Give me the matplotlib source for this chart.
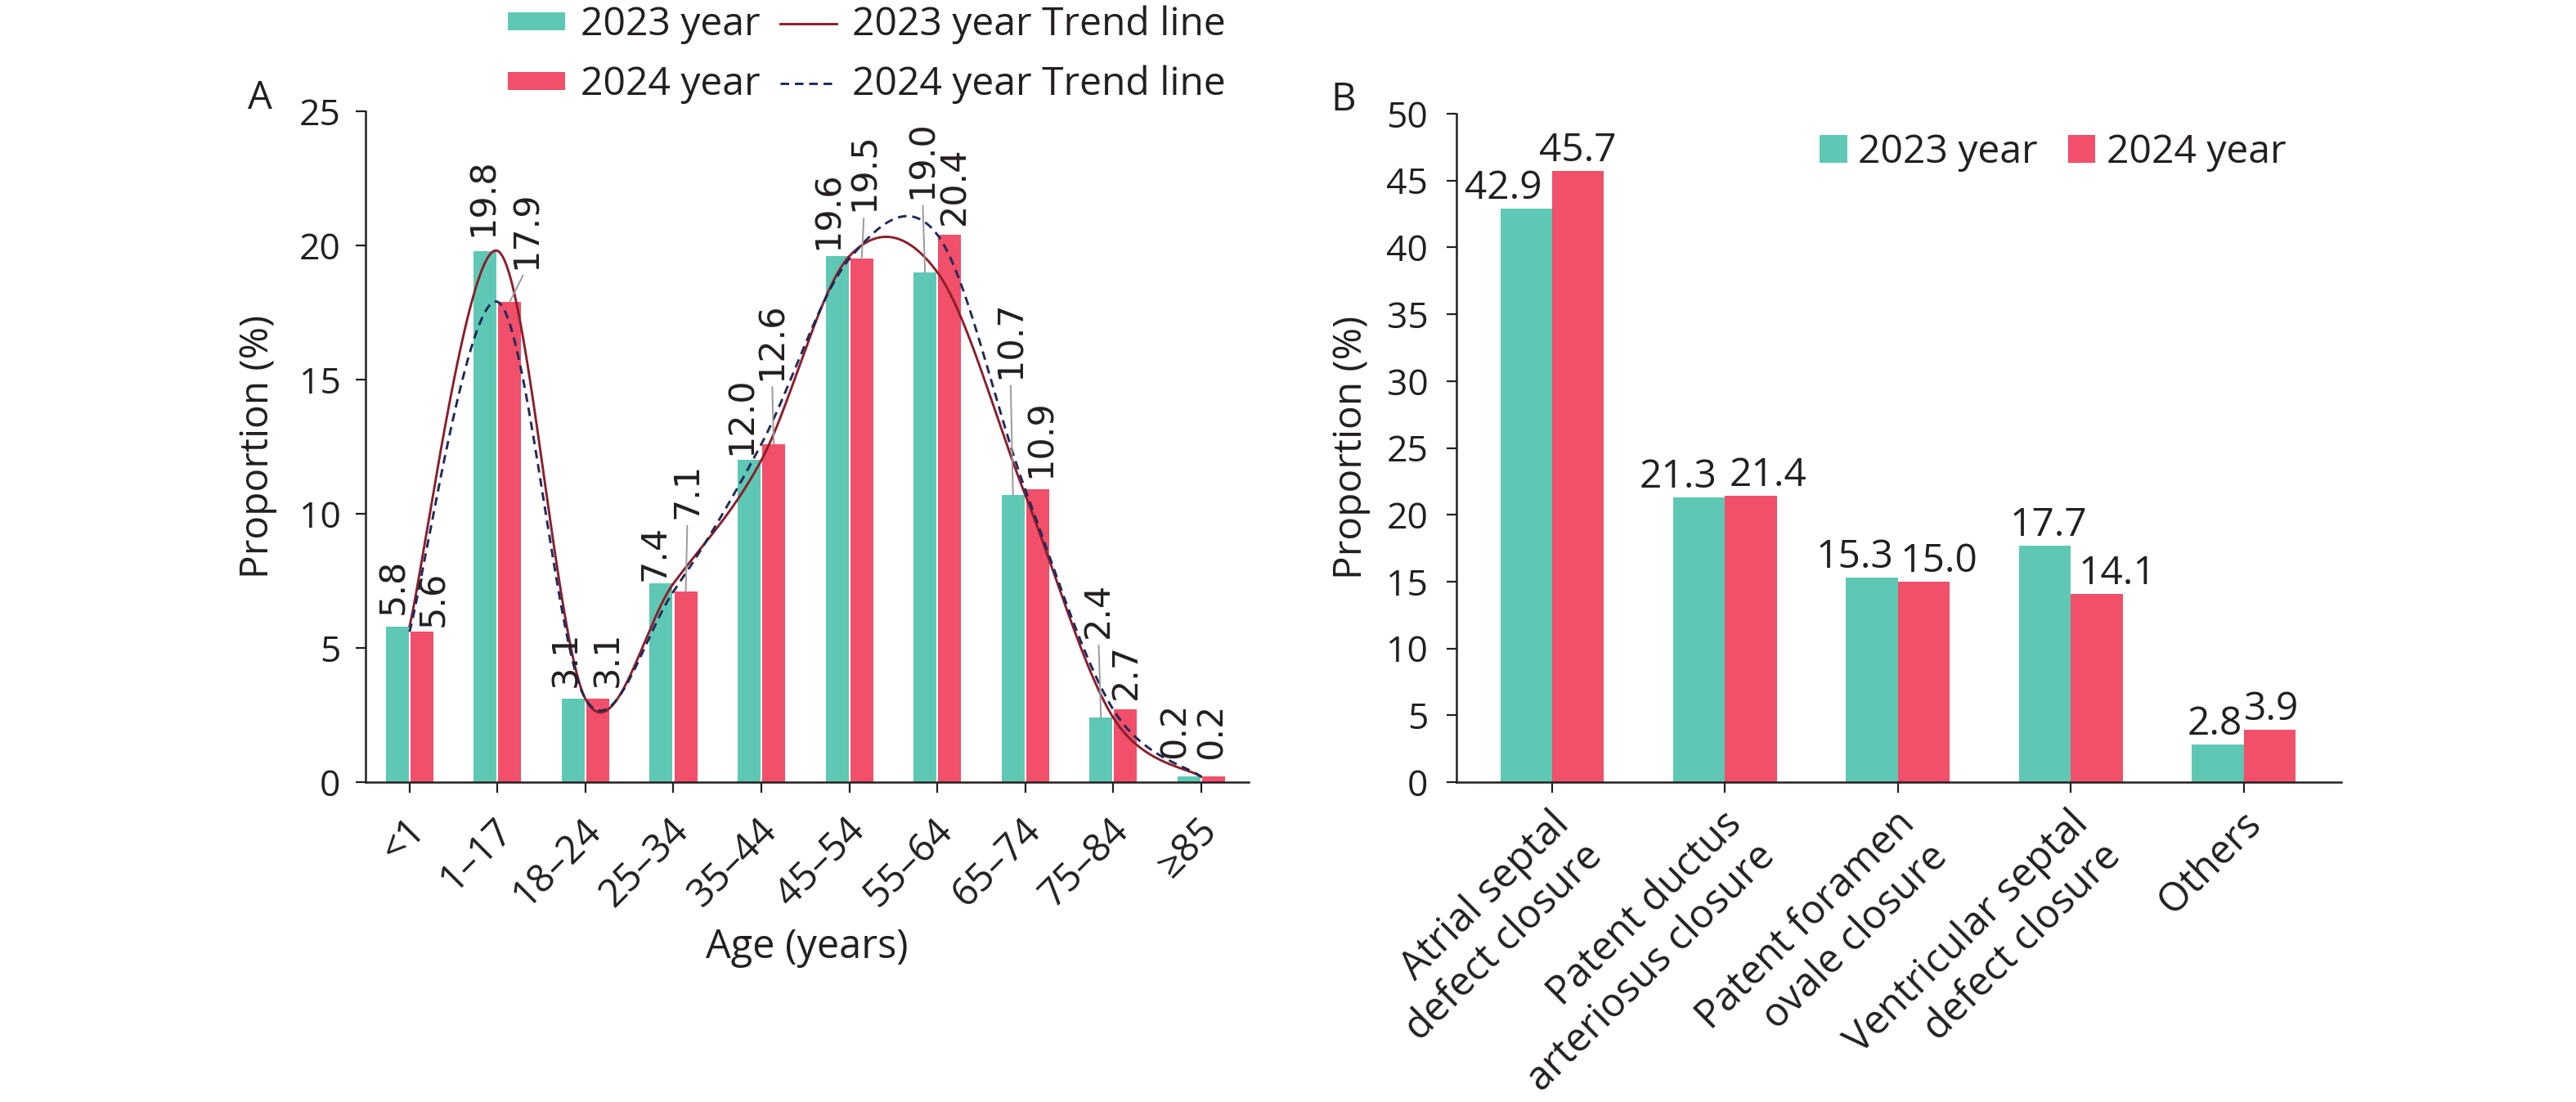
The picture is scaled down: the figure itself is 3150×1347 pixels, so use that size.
import numpy as np
import matplotlib
matplotlib.use('Agg')
import matplotlib.pyplot as plt
from matplotlib.lines import Line2D
from matplotlib.patches import Patch
from matplotlib.transforms import ScaledTranslation

# ---------------- data ----------------
age_groups = ['<1', '1–17', '18–24', '25–34', '35–44', '45–54', '55–64', '65–74', '75–84', '≥85']
age_2023 = [5.8, 19.8, 3.1, 7.4, 12.0, 19.6, 19.0, 10.7, 2.4, 0.2]
age_2024 = [5.6, 17.9, 3.1, 7.1, 12.6, 19.5, 20.4, 10.9, 2.7, 0.2]

procedures = ['Atrial septal\ndefect closure', 'Patent ductus\narteriosus closure',
              'Patent foramen\novale closure', 'Ventricular septal\ndefect closure', 'Others']
proc_2023 = [42.9, 21.3, 15.3, 17.7, 2.8]
proc_2024 = [45.7, 21.4, 15.0, 14.1, 3.9]

series_labels = ['2023 year', '2024 year']
trend_labels = ['2023 year Trend line', '2024 year Trend line']

# ---------------- label layout (pixel nudges) ----------------
a23_dx = [-5, -3, -9, -8, -9, -11, -3, -3, -3, -17]
a23_dy = [15, 18, 14, 3, 6, 8, 90, 142, 97, 22]
a24_dx = [14, 20, 12, 2, -2, 3, 6, 4, 0, -2]
a24_dy = [6, 40, 14, 89, 78, 58, 12, 14, 12, 21]
b23_dx = [-28, -26, -21, 4, -4]
b24_dx = [0, 21, 18, 25, 2]

GREEN = '#5EC8B4'
RED = '#F14F6A'
MAROON = '#8B1E2A'
NAVY = '#1F2A5A'
TXT = '#231F20'
LEAD = '#9A9A9A'

W, H = 3150, 1347
DPI = 100
PX = 72.0 / DPI  # px -> points

plt.rcParams['font.family'] = ['Open Sans', 'DejaVu Sans']
plt.rcParams['text.color'] = TXT
plt.rcParams['axes.labelcolor'] = TXT
plt.rcParams['xtick.color'] = TXT
plt.rcParams['ytick.color'] = TXT


def smooth_curve(xs, ys, n=60):
    """Excel-like smoothed line (Catmull-Rom Bezier)."""
    pts = np.column_stack([xs, ys]).astype(float)
    P = np.vstack([pts[0], pts, pts[-1]])
    t = np.linspace(0, 1, n)[:, None]
    segs = []
    for i in range(1, len(P) - 2):
        p0, p1, p2, p3 = P[i - 1], P[i], P[i + 1], P[i + 2]
        b1 = p1 + (p2 - p0) / 6.0
        b2 = p2 - (p3 - p1) / 6.0
        seg = (1 - t) ** 3 * p1 + 3 * (1 - t) ** 2 * t * b1 + 3 * (1 - t) * t ** 2 * b2 + t ** 3 * p2
        segs.append(seg)
    c = np.vstack(segs)
    return c[:, 0], c[:, 1]


fig = plt.figure(figsize=(W / DPI, H / DPI), dpi=DPI)

axA = fig.add_axes([447 / W, 1 - 956 / H, 1080 / W, 820 / H])
axB = fig.add_axes([1781 / W, 1 - 956 / H, 1082 / W, 817 / H])

for ax in (axA, axB):
    for s in ('top', 'right'):
        ax.spines[s].set_visible(False)
    for s in ('left', 'bottom'):
        ax.spines[s].set_linewidth(1.8)
        ax.spines[s].set_color(TXT)
    ax.tick_params(axis='both', length=9, width=1.6, color=TXT)

# ---------------- Panel A ----------------
xa = np.arange(len(age_groups))
bw = 0.26
off = 0.14
axA.bar(xa - off, age_2023, bw, color=GREEN, zorder=2)
axA.bar(xa + off, age_2024, bw, color=RED, zorder=2)

cx, cy = smooth_curve(xa, age_2023)
axA.plot(cx, cy, color=MAROON, lw=2.1, zorder=4, solid_capstyle='round')
cx, cy = smooth_curve(xa, age_2024)
axA.plot(cx, cy, color=NAVY, lw=2.1, zorder=4, dashes=(3.6, 2.4))

for vals, dxs, dys, sgn in ((age_2023, a23_dx, a23_dy, -1), (age_2024, a24_dx, a24_dy, 1)):
    for i, (v, dx, dy) in enumerate(zip(vals, dxs, dys)):
        lead = dy > 30
        axA.annotate(f'{v:.1f}', xy=(i + sgn * off, v), xytext=(dx * PX, dy * PX),
                     textcoords='offset points', rotation=90, ha='center', va='bottom',
                     fontsize=31, family='DejaVu Sans', color=TXT, zorder=5,
                     arrowprops=dict(arrowstyle='-', color=LEAD, lw=1.4, shrinkA=4, shrinkB=0,
                                     relpos=(0.5, 0)) if lead else None)

axA.set_xlim(-0.5, 9.54)
axA.set_ylim(0, 25)
axA.set_yticks(np.arange(0, 26, 5))
axA.tick_params(axis='y', labelsize=32, pad=13)
axA.set_xticks(xa)
axA.set_xticklabels(age_groups, rotation=45, ha='right', rotation_mode='anchor', fontsize=34)
axA.tick_params(axis='x', pad=16)
shiftA = ScaledTranslation(-5 / DPI, 0, fig.dpi_scale_trans)
for lab in axA.get_xticklabels():
    lab.set_transform(lab.get_transform() + shiftA)

# ---------------- Panel B ----------------
xb = np.arange(len(procedures))
bwb = 0.30
offb = 0.15
axB.bar(xb - offb, proc_2023, bwb, color=GREEN, zorder=2)
axB.bar(xb + offb, proc_2024, bwb, color=RED, zorder=2)
for vals, dxs, sgn in ((proc_2023, b23_dx, -1), (proc_2024, b24_dx, 1)):
    for i, (v, dx) in enumerate(zip(vals, dxs)):
        axB.annotate(f'{v:.1f}', xy=(i + sgn * offb, v), xytext=(dx * PX, 12 * PX),
                     textcoords='offset points', ha='center', va='baseline',
                     fontsize=34.5, color=TXT, zorder=5)

axB.set_xlim(-0.553, 4.563)
axB.set_ylim(0, 50)
axB.set_yticks(np.arange(0, 51, 5))
axB.tick_params(axis='y', labelsize=32, pad=16)
axB.set_xticks(xb)
axB.set_xticklabels(procedures, rotation=45, ha='right', rotation_mode='anchor', fontsize=35)
axB.tick_params(axis='x', pad=10)
shiftB = ScaledTranslation(-4 / DPI, 0, fig.dpi_scale_trans)
for lab in axB.get_xticklabels():
    lab.set_transform(lab.get_transform() + shiftB)

# ---------------- legends ----------------
hA = [Patch(facecolor=GREEN, edgecolor='none'), Patch(facecolor=RED, edgecolor='none'),
      Line2D([], [], color=MAROON, lw=2.1),
      Line2D([], [], color=NAVY, lw=2.1, dashes=(3.6, 2.4))]
fig.legend(hA, series_labels + trend_labels, ncol=2, loc='upper left',
           bbox_to_anchor=(621 / W, 1 - 7 / H), frameon=False, fontsize=34.6,
           handlelength=1.45, handleheight=0.33, handletextpad=0.4, columnspacing=0.5,
           labelspacing=0.52, borderpad=0, borderaxespad=0)

hB = [Patch(facecolor=GREEN, edgecolor='none'), Patch(facecolor=RED, edgecolor='none')]
fig.legend(hB, series_labels, ncol=2, loc='center left',
           bbox_to_anchor=(2225 / W, 1 - 186 / H), frameon=False, fontsize=34.6,
           handlelength=0.7, handleheight=0.7, handletextpad=0.28, columnspacing=0.77,
           borderpad=0, borderaxespad=0)

# ---------------- texts ----------------
fig.text(318 / W, 1 - 120 / H, 'A', fontsize=34, ha='center', va='center')
fig.text(1643 / W, 1 - 122 / H, 'B', fontsize=34, ha='center', va='center')
fig.text(315 / W, 1 - 546 / H, 'Proportion (%)', fontsize=34.5, rotation=90, ha='center', va='center')
fig.text(1652 / W, 1 - 547 / H, 'Proportion (%)', fontsize=34.5, rotation=90, ha='center', va='center')
fig.text(987 / W, 1 - 1158 / H, 'Age (years)', fontsize=35, ha='center', va='center')

fig.savefig('out.png', dpi=DPI, facecolor='white')
